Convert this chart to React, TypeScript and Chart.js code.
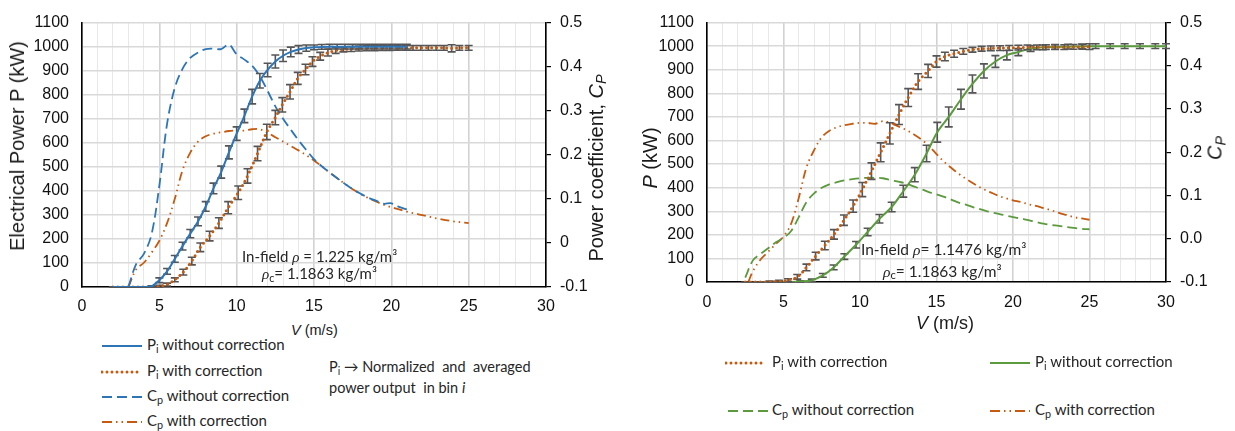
import React, { useEffect, useRef } from 'react';
import { Chart, registerables } from 'chart.js';
Chart.register(...registerables);

// ---------------- Left panel data (rho = 1.225) ----------------
const L_PWO_V = [2, 2.5, 3, 3.5, 4, 4.5, 5, 5.5, 6, 6.5, 7, 7.5, 8, 8.5, 9, 9.5, 10, 10.5, 11, 11.5, 12, 12.5, 13, 13.5, 14, 14.5, 15, 15.5, 16, 16.5, 17, 17.5, 18, 18.5, 19, 19.5, 20, 20.5, 21];
const L_PWO_P = [0, 0, 0, 0, 0, 3, 28, 65, 117, 170, 222, 273, 335, 410, 478, 560, 638, 712, 792, 858, 903, 938, 962, 978, 988, 994, 997, 999, 1000, 1000, 1000, 1000, 1000, 1000, 1000, 1000, 1000, 1000, 1000];
const L_PWO_ERR = [0, 0, 0, 0, 0, 2, 10, 12, 14, 16, 17, 18, 20, 22, 25, 27, 28, 28, 30, 30, 28, 27, 24, 20, 16, 13, 10, 10, 10, 10, 10, 10, 10, 10, 10, 10, 10, 10, 10];

const L_PW_V = [2, 2.5, 3, 3.5, 4, 4.5, 5, 5.5, 6, 6.55, 7.1, 7.65, 8.25, 8.85, 9.45, 10.1, 10.7, 11.35, 11.95, 12.5, 12.95, 13.45, 13.95, 14.45, 14.9, 15.4, 15.9, 16.4, 16.9, 17.4, 17.9, 18.4, 18.9, 19.4, 19.9, 20.4, 20.9, 21.4, 21.9, 22.4, 22.9, 23.4, 23.9, 24.4, 25];
const L_PW_P = [0, 0, 0, 0, 0, 0, 3, 10, 30, 62, 108, 165, 212, 266, 330, 392, 462, 555, 645, 705, 758, 812, 868, 905, 938, 960, 975, 984, 988, 990, 992, 993, 993, 994, 994, 995, 995, 995, 995, 995, 995, 995, 993, 995, 995];
const L_PW_ERR = [0, 0, 0, 0, 0, 0, 4, 6, 8, 12, 16, 18, 20, 22, 25, 28, 30, 30, 32, 30, 30, 30, 25, 22, 20, 16, 14, 12, 10, 10, 10, 10, 10, 10, 10, 10, 10, 10, 10, 10, 10, 10, 15, 10, 10];

const L_CPWO_V = [3, 3.5, 4, 4.5, 5, 5.5, 6, 6.5, 7, 7.5, 8, 8.5, 9, 9.5, 10, 10.5, 11, 11.5, 12, 12.5, 13, 13.5, 14, 14.5, 15, 15.5, 16, 16.5, 17, 17.5, 18, 18.5, 19, 19.5, 20, 20.5, 21];
const L_CPWO = [-0.1, -0.048, -0.025, 0.02, 0.13, 0.27, 0.352, 0.395, 0.42, 0.432, 0.44, 0.441, 0.44, 0.45, 0.428, 0.416, 0.402, 0.378, 0.345, 0.31, 0.282, 0.257, 0.233, 0.211, 0.19, 0.174, 0.16, 0.147, 0.134, 0.122, 0.112, 0.103, 0.096, 0.089, 0.09, 0.082, 0.076];

const L_CPW_V = [3, 3.5, 4, 4.5, 5, 5.5, 6, 6.5, 7, 7.5, 8, 8.5, 9, 9.5, 10, 10.5, 11, 11.5, 12, 12.5, 13, 13.5, 14, 14.5, 15, 15.5, 16, 16.5, 17, 17.5, 18, 18.5, 19, 19.5, 20, 20.5, 21, 21.5, 22, 22.5, 23, 23.5, 24, 24.5, 25];
const L_CPW = [-0.1, -0.06, -0.045, -0.022, 0.005, 0.045, 0.1, 0.165, 0.205, 0.23, 0.242, 0.248, 0.251, 0.254, 0.255, 0.255, 0.258, 0.258, 0.25, 0.24, 0.23, 0.22, 0.21, 0.199, 0.187, 0.174, 0.16, 0.147, 0.134, 0.122, 0.111, 0.102, 0.094, 0.087, 0.081, 0.076, 0.071, 0.067, 0.063, 0.059, 0.055, 0.052, 0.049, 0.047, 0.045];

// ---------------- Right panel data (rho = 1.1476) ----------------
const R_PW_V = [2.5, 3, 3.5, 4.1, 4.7, 5.3, 5.9, 6.5, 7.1, 7.7, 8.3, 8.95, 9.55, 10.15, 10.75, 11.35, 11.95, 12.55, 13.15, 13.8, 14.45, 15, 15.55, 16.15, 16.75, 17.35, 17.95, 18.55, 19.15, 19.75, 20.35, 20.95, 21.55, 22.15, 22.75, 23.35, 23.95, 24.55, 25];
const R_PW_P = [0, 0, 0, 1, 3, 8, 22, 62, 110, 155, 202, 262, 322, 392, 470, 550, 630, 710, 782, 850, 895, 935, 956, 968, 978, 985, 989, 991, 992, 993, 994, 995, 995, 996, 996, 996, 997, 997, 998];
const R_PW_ERR = [0, 0, 0, 3, 4, 6, 10, 14, 16, 18, 20, 22, 26, 30, 35, 40, 45, 42, 38, 33, 28, 24, 18, 15, 12, 10, 10, 10, 10, 10, 10, 10, 10, 10, 10, 10, 10, 10, 12];

const R_PWO_V = [3.5, 4.2, 4.9, 5.5, 6.1, 6.85, 7.57, 8.28, 8.98, 9.74, 10.5, 11.27, 12.07, 12.83, 13.58, 14.35, 15.05, 15.8, 16.6, 17.35, 18.1, 18.85, 19.6, 20.35, 21.15, 21.95, 22.75, 23.6, 24.5, 25.4, 26.35, 27.3, 28.3, 29.3, 30];
const R_PWO_P = [0, 0, 0, 0, 2, 7, 28, 62, 108, 158, 212, 268, 318, 385, 455, 545, 635, 700, 775, 840, 895, 935, 962, 975, 990, 995, 997, 998, 999, 1000, 1000, 1000, 1000, 1000, 1000];
const R_PWO_ERR = [0, 0, 0, 0, 3, 5, 8, 10, 12, 14, 16, 18, 20, 25, 30, 35, 42, 42, 42, 38, 30, 25, 20, 15, 12, 10, 10, 10, 10, 10, 10, 10, 10, 10, 10];

const R_CPWO_V = [2.5, 3, 3.5, 4, 4.5, 5, 5.5, 6, 6.5, 7, 7.5, 8, 8.5, 9, 9.5, 10, 10.5, 11, 11.5, 12, 12.5, 13, 13.5, 14, 14.5, 15, 15.5, 16, 16.5, 17, 17.5, 18, 18.5, 19, 19.5, 20, 20.5, 21, 21.5, 22, 22.5, 23, 23.5, 24, 24.5, 25];
const R_CPWO = [-0.09, -0.05, -0.035, -0.022, -0.008, 0.002, 0.018, 0.05, 0.085, 0.105, 0.118, 0.126, 0.131, 0.135, 0.138, 0.14, 0.141, 0.141, 0.14, 0.136, 0.132, 0.128, 0.121, 0.115, 0.108, 0.103, 0.097, 0.09, 0.083, 0.078, 0.072, 0.067, 0.062, 0.058, 0.054, 0.05, 0.047, 0.043, 0.039, 0.035, 0.032, 0.03, 0.027, 0.025, 0.023, 0.022];

const R_CPW_V = [2.7, 3, 3.5, 4, 4.5, 5, 5.5, 6, 6.5, 7, 7.5, 8, 8.5, 9, 9.5, 10, 10.5, 11, 11.5, 12, 12.5, 13, 13.5, 14, 14.5, 15, 15.5, 16, 16.5, 17, 17.5, 18, 18.5, 19, 19.5, 20, 20.5, 21, 21.5, 22, 22.5, 23, 23.5, 24, 24.5, 25];
const R_CPW = [-0.1, -0.075, -0.048, -0.03, -0.012, 0.005, 0.035, 0.095, 0.165, 0.205, 0.235, 0.25, 0.258, 0.263, 0.266, 0.268, 0.268, 0.266, 0.272, 0.268, 0.26, 0.252, 0.242, 0.23, 0.215, 0.196, 0.178, 0.163, 0.149, 0.137, 0.126, 0.116, 0.108, 0.1, 0.094, 0.089, 0.085, 0.08, 0.076, 0.071, 0.066, 0.06, 0.055, 0.05, 0.047, 0.044];

// axis ranges / ticks
const X_MIN = 0, X_MAX = 30, X_STEP = 1, X_LABEL_EVERY = 5;
const P_MIN = 0, P_MAX = 1100, P_STEP = 100;
const CP_MIN = -0.1, CP_MAX = 0.5, CP_STEP = 0.1;

// ---------------- styles ----------------
const BLUE = '#2E75B6';
const ORANGE = '#C55A11';
const GREEN = '#5B9A3D';
const ERRC = '#555555';
const TICK_FONT = "'Liberation Sans', Arial, sans-serif";
const TEXT_FONT = 'Lato, Carlito, sans-serif';

const pts = (xs: number[], ys: number[]) => xs.map((x, i) => ({ x, y: ys[i] }));

const errorBars = {
  id: 'errorBars',
  beforeDatasetDraw(chart: any, args: any) {
    const ds = chart.data.datasets[args.index];
    const errs: number[] | undefined = ds.errors;
    if (!errs) return;
    const ctx = chart.ctx;
    const xs = chart.scales.x;
    const ys = chart.scales[ds.yAxisID];
    ctx.save();
    ctx.strokeStyle = ERRC;
    ctx.lineWidth = 1.6;
    ds.data.forEach((pt: any, i: number) => {
      const e = errs[i];
      const px = xs.getPixelForValue(pt.x);
      const top = ys.getPixelForValue(pt.y + e);
      const bot = ys.getPixelForValue(Math.max(pt.y - e, P_MIN));
      ctx.beginPath();
      ctx.moveTo(px, top); ctx.lineTo(px, bot);
      ctx.moveTo(px - 4, top); ctx.lineTo(px + 4, top);
      ctx.moveTo(px - 4, bot); ctx.lineTo(px + 4, bot);
      ctx.stroke();
    });
    ctx.restore();
  },
};

type Dims = { w: number; h: number; left: number; right: number; top: number; bottom: number };

function buildConfig(datasets: any[], dims: Dims, cpFmt: (v: number) => string, xPad: number): any {
  return {
    type: 'line',
    data: { datasets },
    plugins: [errorBars],
    options: {
      animation: false,
      responsive: false,
      maintainAspectRatio: false,
      events: [],
      layout: { padding: { top: dims.top, left: 0, right: 0, bottom: 0 } },
      plugins: { legend: { display: false }, tooltip: { enabled: false } },
      elements: { point: { radius: 0 } },
      scales: {
        x: {
          type: 'linear', min: X_MIN, max: X_MAX,
          afterFit: (s: any) => { s.height = dims.h - dims.bottom; },
          ticks: {
            stepSize: X_STEP, autoSkip: false, maxRotation: 0, padding: xPad,
            color: '#111', font: { family: TICK_FONT, size: 16 },
            callback: (v: any) => (Number(v) % X_LABEL_EVERY === 0 ? String(v) : ''),
          },
          grid: {
            drawTicks: false,
            color: (c: any) => (c.tick && c.tick.value % X_LABEL_EVERY === 0 ? '#d2d2d2' : '#e8e8e8'),
            lineWidth: (c: any) => (c.tick && c.tick.value % X_LABEL_EVERY === 0 ? 1.6 : 1),
          },
          border: { color: '#000', width: 1.6 },
        },
        y: {
          type: 'linear', position: 'left', min: P_MIN, max: P_MAX,
          afterFit: (s: any) => { s.width = dims.left; },
          ticks: { stepSize: P_STEP, padding: 13, color: '#111', font: { family: TICK_FONT, size: 16 }, callback: (v: any) => String(Math.round(Number(v))) },
          grid: { drawTicks: false, color: '#d9d9d9', lineWidth: 1.4 },
          border: { color: '#000', width: 1.6 },
        },
        y1: {
          type: 'linear', position: 'right', min: CP_MIN, max: CP_MAX,
          afterFit: (s: any) => { s.width = dims.w - dims.right; },
          ticks: { stepSize: CP_STEP, padding: 9, color: '#111', font: { family: TICK_FONT, size: 16 }, callback: (v: any) => cpFmt(Number(v)) },
          grid: { drawOnChartArea: false, drawTicks: true, tickLength: 5, tickColor: '#000', lineWidth: 1.2 },
          border: { color: '#000', width: 1.6 },
        },
      },
    },
  };
}

const solid = (label: string, data: any, color: string, errors: number[]) => ({
  label, data, borderColor: color, borderWidth: 2, tension: 0.35, yAxisID: 'y', errors, fill: false,
});
const dotted = (label: string, data: any, color: string, errors: number[]) => ({
  label, data, borderColor: color, borderWidth: 3, borderDash: [0, 5], borderCapStyle: 'round', tension: 0.35, yAxisID: 'y', errors, fill: false,
});
const dashed = (label: string, data: any, color: string) => ({
  label, data, borderColor: color, borderWidth: 1.8, borderDash: [10, 5], tension: 0.35, yAxisID: 'y1', fill: false,
});
const dashDotDot = (label: string, data: any, color: string) => ({
  label, data, borderColor: color, borderWidth: 1.8, borderDash: [9, 4, 1.5, 4, 1.5, 4], tension: 0.35, yAxisID: 'y1', fill: false,
});

const LEFT_DIMS: Dims = { w: 620, h: 320, left: 82, right: 546, top: 19, bottom: 287 };
const RIGHT_DIMS: Dims = { w: 615, h: 320, left: 87, right: 546, top: 20, bottom: 282 };

function Sample({ x, y, color, dash, width, cap }: any) {
  return (
    <svg width={42} height={10} style={{ position: 'absolute', left: x, top: y - 5 }}>
      <line x1={1} y1={5} x2={41} y2={5} stroke={color} strokeWidth={width} strokeDasharray={dash} strokeLinecap={cap || 'butt'} />
    </svg>
  );
}

const abs = (x: number, y: number, extra: any = {}): any => ({
  position: 'absolute', left: x, top: y, transform: 'translateY(-50%)', whiteSpace: 'nowrap', lineHeight: 1, ...extra,
});
const rot = (cx: number, cy: number, extra: any = {}): any => ({
  position: 'absolute', left: cx, top: cy, transform: 'translate(-50%,-50%) rotate(-90deg)', whiteSpace: 'nowrap', lineHeight: 1,
  fontFamily: TICK_FONT, color: '#1a1a1a', ...extra,
});
const rhoStyle: any = { fontFamily: "'Liberation Serif', 'DejaVu Serif', serif", fontStyle: 'italic' };
const subS: any = { fontSize: '0.72em', verticalAlign: '-0.25em' };

export default function App() {
  const leftRef = useRef<HTMLCanvasElement>(null);
  const rightRef = useRef<HTMLCanvasElement>(null);

  useEffect(() => {
    const left = new Chart(leftRef.current as HTMLCanvasElement, buildConfig([
      solid('Pi without correction', pts(L_PWO_V, L_PWO_P), BLUE, L_PWO_ERR),
      dotted('Pi with correction', pts(L_PW_V, L_PW_P), ORANGE, L_PW_ERR),
      dashed('Cp without correction', pts(L_CPWO_V, L_CPWO), BLUE),
      dashDotDot('Cp with correction', pts(L_CPW_V, L_CPW), ORANGE),
    ], LEFT_DIMS, (v) => (Math.abs(v) < 1e-9 ? '0' : v.toFixed(1)), 10));
    const right = new Chart(rightRef.current as HTMLCanvasElement, buildConfig([
      dotted('Pi with correction', pts(R_PW_V, R_PW_P), ORANGE, R_PW_ERR),
      solid('Pi without correction', pts(R_PWO_V, R_PWO_P), GREEN, R_PWO_ERR),
      dashed('Cp without correction', pts(R_CPWO_V, R_CPWO), GREEN),
      dashDotDot('Cp with correction', pts(R_CPW_V, R_CPW), ORANGE),
    ], RIGHT_DIMS, (v) => (Math.abs(v) < 1e-9 ? '0.0' : v.toFixed(1)), 11));
    return () => { left.destroy(); right.destroy(); };
  }, []);

  const legendText = { fontFamily: TEXT_FONT, fontSize: 15, color: '#262626' };
  const annText = { fontFamily: TEXT_FONT, fontSize: 15, color: '#262626' };

  return (
    <div style={{ position: 'absolute', left: 0, top: 0, width: 1235, height: 431, background: '#fff', overflow: 'hidden' }}>
      <canvas ref={leftRef} width={620} height={320} style={{ position: 'absolute', left: 0, top: 0, width: 620, height: 320 }} />
      <canvas ref={rightRef} width={615} height={320} style={{ position: 'absolute', left: 620, top: 0, width: 615, height: 320 }} />

      {/* Left panel titles */}
      <div style={rot(17, 146, { fontSize: 20 })}>Electrical Power P (kW)</div>
      <div style={rot(597, 168, { fontSize: 20 })}>Power coefficient, <i>C</i><i style={subS}>P</i></div>
      <div style={{ ...abs(291, 330), fontFamily: TICK_FONT, fontSize: 14.5, color: '#1a1a1a' }}><i>V</i> (m/s)</div>

      {/* Left annotations */}
      <div style={{ ...abs(242, 257), ...annText }}>In-field <span style={rhoStyle}>ρ</span> = 1.225 kg/m³</div>
      <div style={{ ...abs(262, 275), ...annText }}><span style={rhoStyle}>ρ</span><span style={subS}>c</span>= 1.1863 kg/m³</div>

      {/* Left legend */}
      <Sample x={101} y={346} color={BLUE} width={2} />
      <div style={{ ...abs(147, 346), ...legendText }}>P<span style={subS}>i</span> without correction</div>
      <Sample x={101} y={372} color={ORANGE} width={3} dash="0 5" cap="round" />
      <div style={{ ...abs(147, 372), ...legendText }}>P<span style={subS}>i</span> with correction</div>
      <Sample x={101} y={397} color={BLUE} width={1.8} dash="10 5" />
      <div style={{ ...abs(147, 397), ...legendText }}>C<span style={subS}>p</span> without correction</div>
      <Sample x={101} y={422} color={ORANGE} width={2} dash="10 4 1.5 4 1.5 4" />
      <div style={{ ...abs(147, 422), ...legendText }}>C<span style={subS}>p</span> with correction</div>
      <div style={{ ...abs(329, 368), ...legendText, fontSize: 14.5 }}>P<span style={subS}>i</span> → Normalized&nbsp; and&nbsp; averaged</div>
      <div style={{ ...abs(329, 388), ...legendText, fontSize: 14.5 }}>power output&nbsp; in bin <i>i</i></div>

      {/* Right panel titles */}
      <div style={rot(650, 158, { fontSize: 20 })}><i>P</i> (kW)</div>
      <div style={rot(1216, 148, { fontSize: 20 })}><i>C</i><i style={subS}>P</i></div>
      <div style={{ ...abs(916, 323), fontFamily: TICK_FONT, fontSize: 18, color: '#1a1a1a' }}><i>V</i> (m/s)</div>

      {/* Right annotations */}
      <div style={{ ...abs(861, 250), ...annText, fontSize: 15.5 }}>In-field <span style={rhoStyle}>ρ</span>= 1.1476 kg/m³</div>
      <div style={{ ...abs(883, 272), ...annText, fontSize: 15.5 }}><span style={rhoStyle}>ρ</span><span style={subS}>c</span>= 1.1863 kg/m³</div>

      {/* Right legend */}
      <Sample x={725} y={363} color={ORANGE} width={3} dash="0 5" cap="round" />
      <div style={{ ...abs(772, 363), ...legendText }}>P<span style={subS}>i</span> with correction</div>
      <Sample x={989} y={363} color={GREEN} width={2} />
      <div style={{ ...abs(1035, 363), ...legendText }}>P<span style={subS}>i</span> without correction</div>
      <Sample x={727} y={411} color={GREEN} width={1.8} dash="10 5" />
      <div style={{ ...abs(772, 411), ...legendText }}>C<span style={subS}>p</span> without correction</div>
      <Sample x={989} y={411} color={ORANGE} width={2} dash="10 4 1.5 4 1.5 4" />
      <div style={{ ...abs(1035, 411), ...legendText }}>C<span style={subS}>p</span> with correction</div>
    </div>
  );
}
